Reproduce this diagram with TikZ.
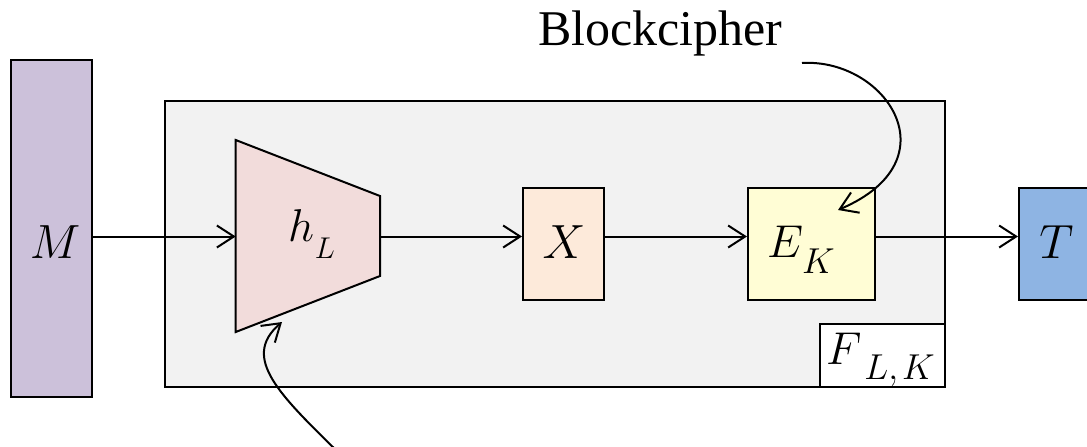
\RequirePackage{fix-cm}
\documentclass[tikz,border=0pt]{standalone}
\usepackage{fontspec}
\newfontfamily\lblfont{Liberation Serif}
\usetikzlibrary{arrows.meta}
\definecolor{mfill}{HTML}{CCC1DA}
\definecolor{boxgrey}{HTML}{F2F2F2}
\definecolor{hfill}{HTML}{F2DCDB}
\definecolor{xfill}{HTML}{FDEADA}
\definecolor{efill}{HTML}{FFFDD5}
\definecolor{tfill}{HTML}{8EB4E3}
% symbol with a large, deeply lowered subscript:
% #1 symbol, #2 gap, #3 drop, #4 subscript size, #5 subscript
\newcommand\lowsub[5]{$#1$\kern#2\raisebox{-#3}{\fontsize{#4}{#4}\selectfont$#5$}}
\begin{document}
\begin{tikzpicture}[x=0.5pt,y=-0.5pt,line width=1pt,
  blk/.style={draw=black,line width=1pt,inner sep=0pt},
  flow/.style={-{Straight Barb[length=8.5pt,width=11pt,line width=1pt]}},
  mathlbl/.style={font=\fontsize{24}{28}\selectfont,inner sep=0pt,anchor=base},
  sublbl/.style={font=\fontsize{23}{27}\selectfont,inner sep=0pt,anchor=base west}]
\useasboundingbox (0,0) rectangle (1087,446);
\clip (0,0) rectangle (1087,446);

% input message
\node[blk,fill=mfill,minimum width=40.5pt,minimum height=168.5pt] (Mbox) at (51.5,228.5) {};
\node[mathlbl] (Mlbl) at (55,258) {$M$};

% the keyed function F
\node[blk,fill=boxgrey,minimum width=390pt,minimum height=143pt] (F) at (555,244) {};
\node[blk,fill=white,anchor=south east,minimum width=62.5pt,minimum height=31.5pt] (Flbl) at (F.south east) {};
\node[sublbl] (Ftxt) at (825,364) {\lowsub{F}{1.5pt}{7.5pt}{18}{L{,}\mkern2mu K}};

% hash h_L (trapezoid)
\coordinate (hLtl) at (235.7,140);
\coordinate (hLtr) at (380,196);
\coordinate (hLbr) at (380,276);
\coordinate (hLbl) at (235.7,332);
\coordinate (hLw) at (235.7,236.5);
\coordinate (hLe) at (380,236.5);
\draw[fill=hfill,line join=miter] (hLtl) -- (hLtr) -- (hLbr) -- (hLbl) -- cycle;
\node[sublbl] (hLlbl) at (287,241) {\lowsub{h}{0.5pt}{8.5pt}{15}{L}};

% intermediate value X
\node[blk,fill=xfill,minimum width=40.5pt,minimum height=56pt] (X) at (563.5,244) {};
\node[mathlbl] (Xlbl) at (564,258) {$X$};

% blockcipher E_K
\node[blk,fill=efill,minimum width=63.5pt,minimum height=56pt] (E) at (811.5,244) {};
\node[sublbl] (Elbl) at (766,257) {\lowsub{E}{-0.5pt}{8pt}{18}{K}};

% tag T
\node[blk,fill=tfill,minimum width=37.5pt,minimum height=56pt] (T) at (1056.5,244) {};
\node[mathlbl] (Tlbl) at (1056.5,258) {$T$};

% data flow
\draw[flow] (Mbox.east |- hLw) -- (hLw);
\draw[flow] (hLe) -- (hLe -| X.west);
\draw[flow] (X.east |- hLe) -- (hLe -| E.west);
\draw[flow] (E.east |- hLe) -- (hLe -| T.west);

% annotation for the blockcipher
\node[font=\lblfont\fontsize{25}{30}\selectfont,anchor=base west,inner sep=0pt] (bc) at (537,45) {Blockcipher};
\coordinate (bcs) at (802,63);
\coordinate (Etip) at (838,210);
\draw[flow] (bcs) .. controls (885,58) and (955,160) .. (Etip);

% annotation for the hash
\coordinate (hfoot) at (342,456);
\coordinate (htip) at (282,322);
\draw[flow] (hfoot) .. controls (280,395) and (240,358) .. (htip);
\end{tikzpicture}
\end{document}
